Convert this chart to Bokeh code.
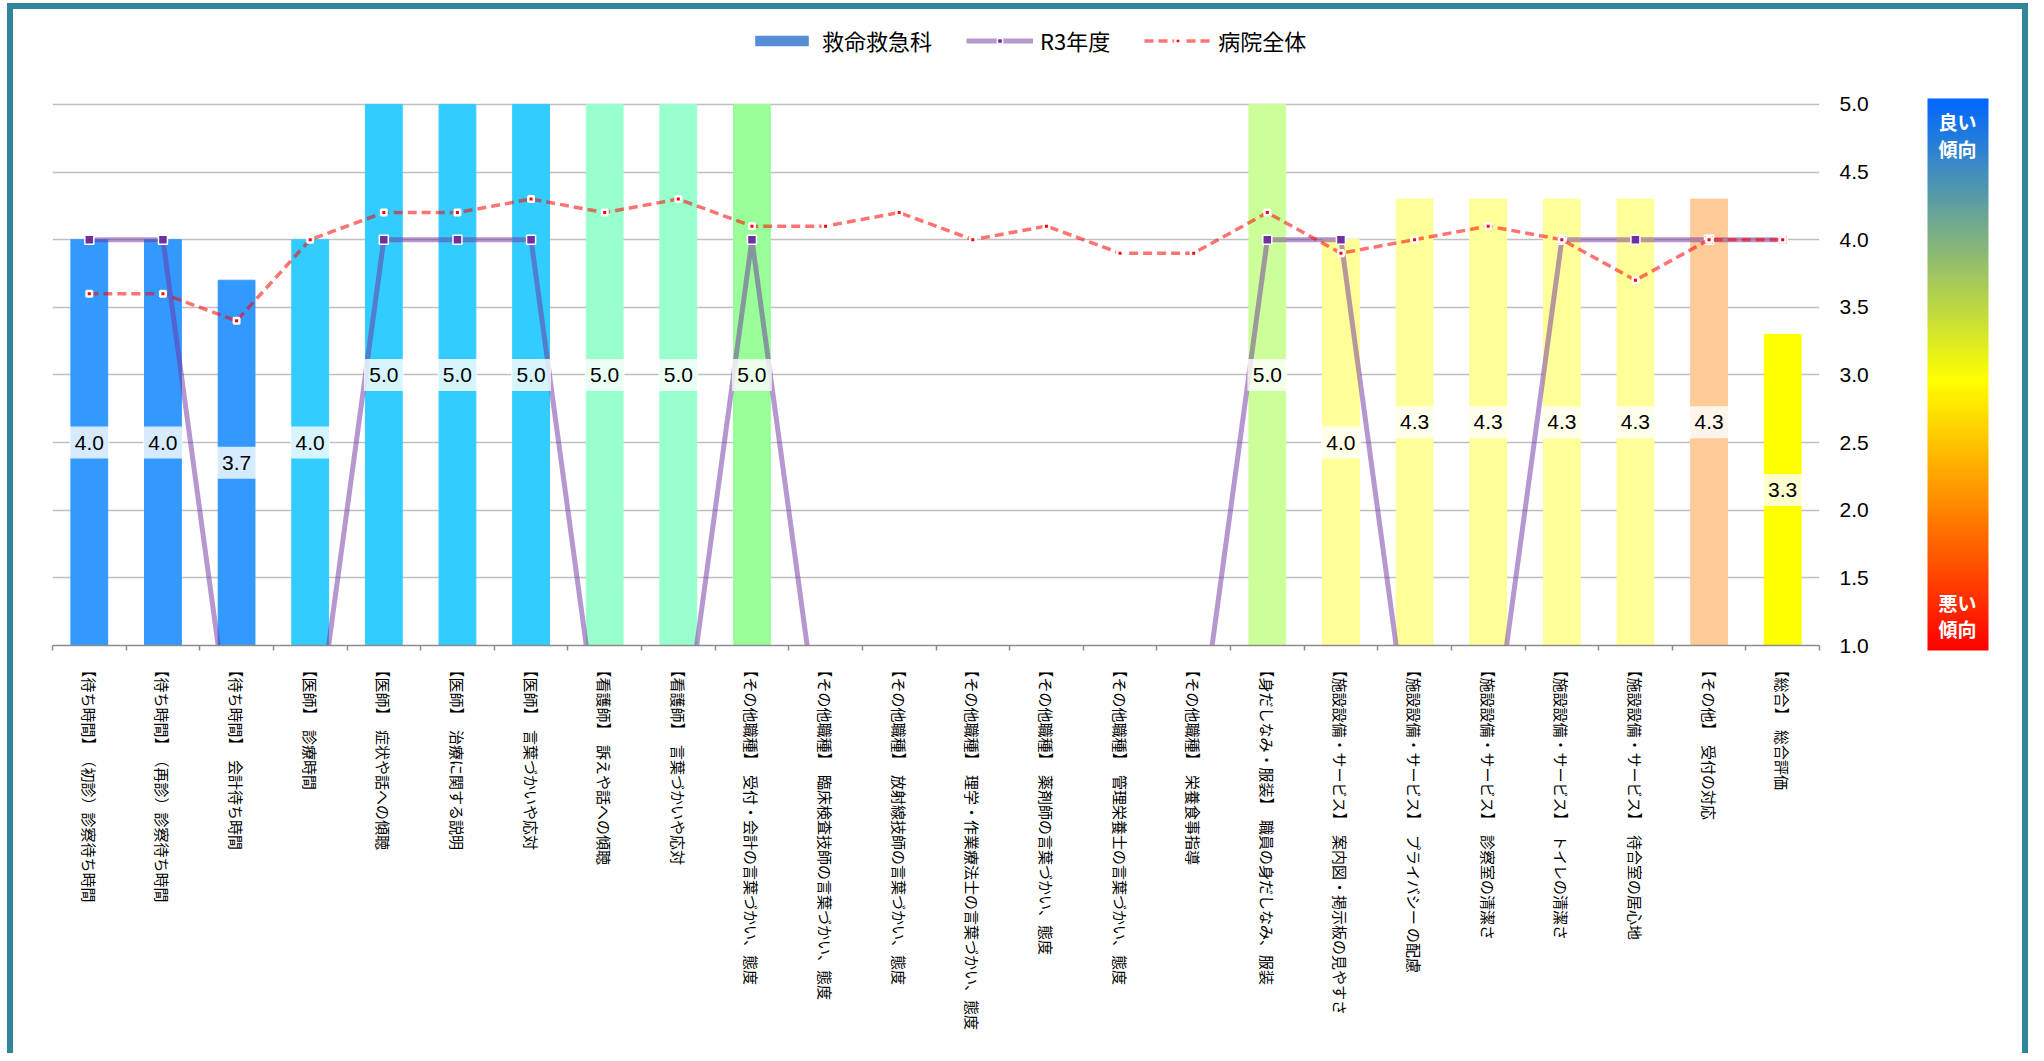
import math
from bokeh.plotting import figure
from bokeh.models import (ColumnDataSource, FactorRange, Range1d, LinearAxis, CategoricalAxis,
                          FixedTicker, Legend, LegendItem, ColorBar, LinearColorMapper,
                          NumeralTickFormatter, Grid, AllLabels)
from bokeh.core.properties import value
from bokeh.embed import file_html
from bokeh.resources import INLINE

# ---------------- data ----------------
categories = [
    "【待ち時間】　（初診）診察待ち時間",
    "【待ち時間】　（再診）診察待ち時間",
    "【待ち時間】　会計待ち時間",
    "【医師】　診療時間",
    "【医師】　症状や話への傾聴",
    "【医師】　治療に関する説明",
    "【医師】　言葉づかいや応対",
    "【看護師】　訴えや話への傾聴",
    "【看護師】　言葉づかいや応対",
    "【その他職種】　受付・会計の言葉づかい、態度",
    "【その他職種】　臨床検査技師の言葉づかい、態度",
    "【その他職種】　放射線技師の言葉づかい、態度",
    "【その他職種】　理学・作業療法士の言葉づかい、態度",
    "【その他職種】　薬剤師の言葉づかい、態度",
    "【その他職種】　管理栄養士の言葉づかい、態度",
    "【その他職種】　栄養食事指導",
    "【身だしなみ・服装】　職員の身だしなみ、服装",
    "【施設設備・サービス】　案内図・掲示板の見やすさ",
    "【施設設備・サービス】　プライバシー の配慮",
    "【施設設備・サービス】　診察室の清潔さ",
    "【施設設備・サービス】　トイレの清潔さ",
    "【施設設備・サービス】　待合室の居心地",
    "【その他】　受付の対応",
    "【総合】　総合評価",
]
dept_scores = [4.0, 4.0, 3.7, 4.0, 5.0, 5.0, 5.0, 5.0, 5.0, 5.0,
               0, 0, 0, 0, 0, 0, 5.0, 4.0, 4.3, 4.3, 4.3, 4.3, 4.3, 3.3]
r3_scores = [4.0, 4.0, 0, 0, 4.0, 4.0, 4.0, 0, 0, 4.0,
             0, 0, 0, 0, 0, 0, 4.0, 4.0, 0, 0, 4.0, 4.0, 4.0, 4.0]
hospital_scores = [3.6, 3.6, 3.4, 4.0, 4.2, 4.2, 4.3, 4.2, 4.3, 4.1,
                   4.1, 4.2, 4.0, 4.1, 3.9, 3.9, 4.2, 3.9, 4.0, 4.1, 4.0, 3.7, 4.0, 4.0]
y_ticks = [1.0, 1.5, 2.0, 2.5, 3.0, 3.5, 4.0, 4.5, 5.0]
series_names = ["救命救急科", "R3年度", "病院全体"]
scale_texts = ["良い", "傾向", "悪い", "傾向"]

# ---------------- styles ----------------
group_colors = {
    "【待ち時間】": "#3399FF", "【医師】": "#33CCFF", "【看護師】": "#99FFCC",
    "【その他職種】": "#99FF99", "【身だしなみ・服装】": "#CCFF99",
    "【施設設備・サービス】": "#FFFF99", "【その他】": "#FFCC99", "【総合】": "#FFFF00",
}
bar_colors = [group_colors[c.split("】")[0] + "】"] for c in categories]
JP = "Noto Sans CJK JP"
NUM = "Liberation Sans"
TEAL = "#31849B"
SERIES_BLUE = "#558ED5"

y_min, y_max = y_ticks[0], y_ticks[-1]
HEADROOM = 0.62          # blank space above 5.0 that holds the legend

W, H = 2021, 1050
p = figure(width=W, height=H, x_range=FactorRange(factors=categories),
           y_range=Range1d(y_min, y_max + HEADROOM),
           x_axis_location=None, y_axis_location=None, output_backend="svg", toolbar_location=None,
           min_border_left=39, min_border_right=215, min_border_top=11, min_border_bottom=414)
p.outline_line_color = None
p.background_fill_color = "white"
p.border_fill_color = "white"
p.styles = {"margin-left": "7px", "margin-top": "3px",
            "border-left": f"6px solid {TEAL}", "border-top": f"6px solid {TEAL}",
            "border-right": f"6px solid {TEAL}"}
for g in p.grid:
    g.visible = False

yticker = FixedTicker(ticks=y_ticks)
p.add_layout(Grid(dimension=1, ticker=yticker, grid_line_color="#C0C0C0", grid_line_width=1.5))

# x axis: tick marks on category boundaries (synthetic coordinates of the factor range)
tick_axis = LinearAxis(ticker=FixedTicker(ticks=list(range(len(categories) + 1))),
                       axis_line_color="#8C8C8C", axis_line_width=1.5, major_tick_in=0, major_tick_out=5,
                       major_tick_line_color="#8C8C8C", major_tick_line_width=1.5,
                       minor_tick_line_color=None, major_label_text_font_size="1px",
                       major_label_text_alpha=0, major_label_standoff=0)
p.add_layout(tick_axis, "below")

cat_axis = CategoricalAxis(axis_line_color=None, major_tick_line_color=None, major_tick_in=0, major_tick_out=0,
                           minor_tick_line_color=None, major_label_standoff=12,
                           major_label_text_font=JP, major_label_text_font_size="15px",
                           major_label_text_color="#000000",
                           major_label_orientation=-math.pi / 2)
p.add_layout(cat_axis, "below")

yaxis = LinearAxis(ticker=yticker, formatter=NumeralTickFormatter(format="0.0"),
                   axis_line_color=None, major_tick_line_color=None, major_tick_in=0, major_tick_out=0,
                   minor_tick_line_color=None, major_label_standoff=20,
                   major_label_text_font=NUM, major_label_text_font_size="21px",
                   major_label_text_color="#000000")
p.add_layout(yaxis, "right")

# bars
src = ColumnDataSource(dict(cat=categories, score=dept_scores, color=bar_colors))
p.vbar(x="cat", top="score", bottom=y_min, width=0.5, fill_color="color", line_color="color",
       line_width=1, source=src)
# legend swatch for the bar series (zero-height bar at the baseline, only its legend glyph shows)
legend_bar = p.vbar(x=categories[:1], top=[y_min], bottom=y_min, width=0.5,
                    fill_color=SERIES_BLUE, line_color=None)

# R3 line
r3_line = p.line(x=categories, y=r3_scores, line_color="#7030A0", line_alpha=0.5, line_width=5)
r3_pts = p.scatter(x=categories, y=r3_scores, marker="square", size=9, fill_color="#7030A0",
                   line_color="white", line_width=1.5)
# hospital line
h_line = p.line(x=categories, y=hospital_scores, line_color="#FF0000", line_alpha=0.55,
                line_width=3.5, line_dash="9 5")
h_pts = p.scatter(x=categories, y=hospital_scores, marker="square", size=5.5, fill_color="#FF0000",
                  line_color="white", line_width=2.5)

# data labels
lab_cats = [c for c, v in zip(categories, dept_scores) if v > 0]
lab_vals = [v for v in dept_scores if v > 0]
lab_mid = [(y_min + v) / 2 for v in lab_vals]
lab_txt = [f"{v:.1f}" for v in lab_vals]
p.rect(x=lab_cats, y=lab_mid, width=0.54, height=32, height_units="screen",
       fill_color="white", fill_alpha=0.8, line_color=None)
p.text(x=lab_cats, y=lab_mid, text=lab_txt, text_font=value(NUM), text_font_size="21px",
       text_align="center", text_baseline="middle", text_color="#000000")

# legend (in the headroom at the top of the plot area)
legend = Legend(items=[LegendItem(label=series_names[0], renderers=[legend_bar]),
                       LegendItem(label=series_names[1], renderers=[r3_line, r3_pts]),
                       LegendItem(label=series_names[2], renderers=[h_line, h_pts])],
                orientation="horizontal", location=(696, 589), glyph_width=67, glyph_height=13,
                label_standoff=7, spacing=34, padding=0, margin=0, border_line_color=None,
                background_fill_alpha=0, label_text_font=JP, label_text_font_size="22px",
                label_text_color="#000000")
p.add_layout(legend)

# colour scale (good -> bad)
stops = [(0.0, (255, 0, 0)), (0.49, (255, 255, 0)), (1.0, (0, 102, 255))]
palette = []
for i in range(256):
    t = i / 255
    for (t0, c0), (t1, c1) in zip(stops[:-1], stops[1:]):
        if t0 <= t <= t1:
            f = (t - t0) / (t1 - t0)
            rgb = [round(a + (b - a) * f) for a, b in zip(c0, c1)]
            palette.append("#%02X%02X%02X" % tuple(rgb))
            break
mapper = LinearColorMapper(palette=palette, low=y_min, high=y_max)
word_pos = [4.83, 4.64, 1.35, 1.16]
cb = ColorBar(color_mapper=mapper, location=(1875, -5), width=61, height=552, padding=0, margin=0,
              ticker=FixedTicker(ticks=word_pos), major_label_policy=AllLabels(),
              major_label_overrides={pos: txt for pos, txt in zip(word_pos, scale_texts)},
              major_tick_line_color=None, minor_tick_line_color=None, major_tick_out=0, major_tick_in=0,
              label_standoff=-50, major_label_text_color="white", major_label_text_font=JP,
              major_label_text_font_style="bold", major_label_text_font_size="19px",
              bar_line_color=None, border_line_color=None, background_fill_alpha=0)
p.add_layout(cb)

open("out.html", "w").write(file_html(p, INLINE))
